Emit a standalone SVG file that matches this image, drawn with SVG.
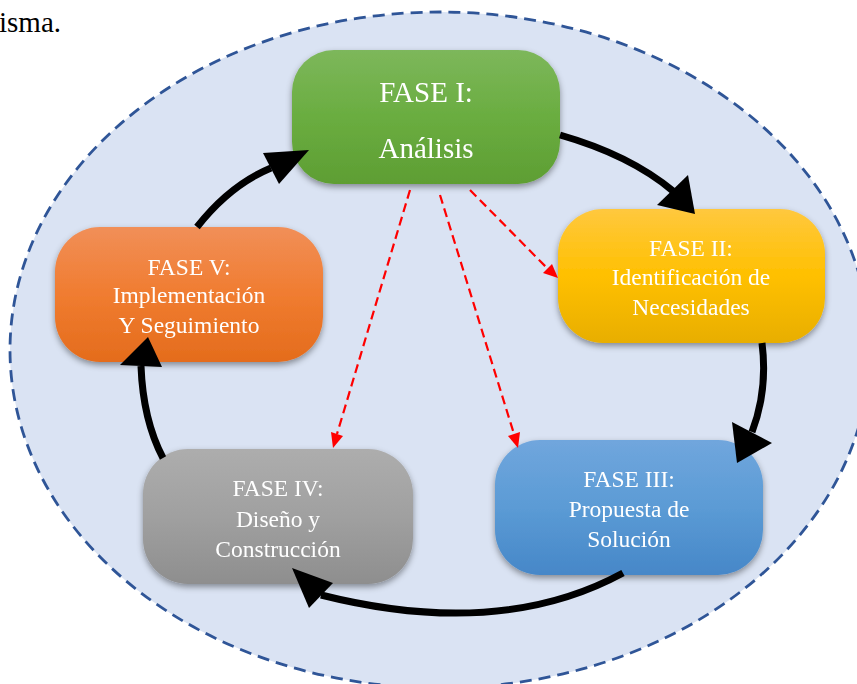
<svg xmlns="http://www.w3.org/2000/svg" width="857" height="684" viewBox="0 0 857 684">
<style>
.lbl{font-family:"Liberation Serif","Times New Roman",serif;fill:#ffffff;text-anchor:middle;font-size:23.5px}
.big{font-size:29px}
.flow{fill:none;stroke:#000;stroke-width:7}
.head{fill:#000}
.dash{fill:none;stroke:#ff0000;stroke-width:2.2;stroke-dasharray:9 5}
.rh{fill:#ff0000}
</style>
<defs>
<filter id="sh" x="-10%" y="-10%" width="120%" height="130%">
<feDropShadow dx="0" dy="3" stdDeviation="3" flood-color="#000" flood-opacity="0.4"/>
</filter>
<linearGradient id="gG" x1="0" y1="0" x2="0" y2="1"><stop offset="0" stop-color="#7DB75B"/><stop offset="0.5" stop-color="#6AAD40"/><stop offset="1" stop-color="#5E9E33"/></linearGradient>
<linearGradient id="gY" x1="0" y1="0" x2="0" y2="1"><stop offset="0" stop-color="#FFC83E"/><stop offset="0.5" stop-color="#FFC000"/><stop offset="1" stop-color="#E8AE00"/></linearGradient>
<linearGradient id="gO" x1="0" y1="0" x2="0" y2="1"><stop offset="0" stop-color="#F18F58"/><stop offset="0.5" stop-color="#F07C30"/><stop offset="1" stop-color="#E46C1C"/></linearGradient>
<linearGradient id="gA" x1="0" y1="0" x2="0" y2="1"><stop offset="0" stop-color="#ADADAD"/><stop offset="0.5" stop-color="#A0A0A0"/><stop offset="1" stop-color="#8E8E8E"/></linearGradient>
<linearGradient id="gB" x1="0" y1="0" x2="0" y2="1"><stop offset="0" stop-color="#70A6DD"/><stop offset="0.5" stop-color="#5B9BD5"/><stop offset="1" stop-color="#4687C8"/></linearGradient>
</defs>
<rect width="857" height="684" fill="#ffffff"/>
<text x="-1" y="32" style="font-family:'Liberation Serif','Times New Roman',serif;font-size:29px;fill:#000">isma.</text>
<ellipse cx="440" cy="350" rx="430" ry="338" fill="#DAE3F3" stroke="#2F5597" stroke-width="2.8" stroke-dasharray="12 7"/>
<g id="fase1" filter="url(#sh)">
<rect x="292" y="50" width="268" height="134" rx="42" fill="url(#gG)"/>
<text class="lbl big" x="426" y="102">FASE I:</text>
<text class="lbl big" x="426" y="158">Análisis</text>
</g>
<g id="fase2" filter="url(#sh)">
<rect x="558" y="209" width="267" height="134" rx="45" fill="url(#gY)"/>
<text class="lbl" x="691" y="256">FASE II:</text>
<text class="lbl" x="691" y="285">Identificación de</text>
<text class="lbl" x="691" y="315">Necesidades</text>
</g>
<g id="fase3" filter="url(#sh)">
<rect x="495" y="440" width="268" height="135" rx="45" fill="url(#gB)"/>
<text class="lbl" x="629" y="487">FASE III:</text>
<text class="lbl" x="629" y="517">Propuesta de</text>
<text class="lbl" x="629" y="547">Solución</text>
</g>
<g id="fase4" filter="url(#sh)">
<rect x="143" y="449" width="270" height="135" rx="45" fill="url(#gA)"/>
<text class="lbl" x="278" y="496">FASE IV:</text>
<text class="lbl" x="278" y="527">Diseño y</text>
<text class="lbl" x="278" y="557">Construcción</text>
</g>
<g id="fase5" filter="url(#sh)">
<rect x="55" y="227" width="268" height="135" rx="45" fill="url(#gO)"/>
<text class="lbl" x="189" y="275">FASE V:</text>
<text class="lbl" x="189" y="303">Implementación</text>
<text class="lbl" x="189" y="333">Y Seguimiento</text>
</g>
<g id="connectors">
<path class="flow" d="M560,135 Q630,155 673,191"/>
<polygon class="head" points="695,214 688,175 657,205"/>
<path class="flow" d="M762,343 Q768,390 752,432"/>
<polygon class="head" points="737,463 732,422 772,443"/>
<path class="flow" d="M623,573 Q500,640 321,595"/>
<polygon class="head" points="292,568 333,583 309,608"/>
<path class="flow" d="M163,458 Q143,420 141,366"/>
<polygon class="head" points="148,337 120,365 162,367"/>
<path class="flow" d="M197,227 Q230,185 271,168"/>
<polygon class="head" points="309,150 263,153 279,184"/>
<path class="dash" d="M410,190 L337,434"/>
<polygon class="rh" points="333,448 331,432 343,436"/>
<path class="dash" d="M440,195 L514,434"/>
<polygon class="rh" points="518,448 508,436 520,432"/>
<path class="dash" d="M470,190 L547,268"/>
<polygon class="rh" points="558,278 543,273 552,264"/>
</g>
</svg>
